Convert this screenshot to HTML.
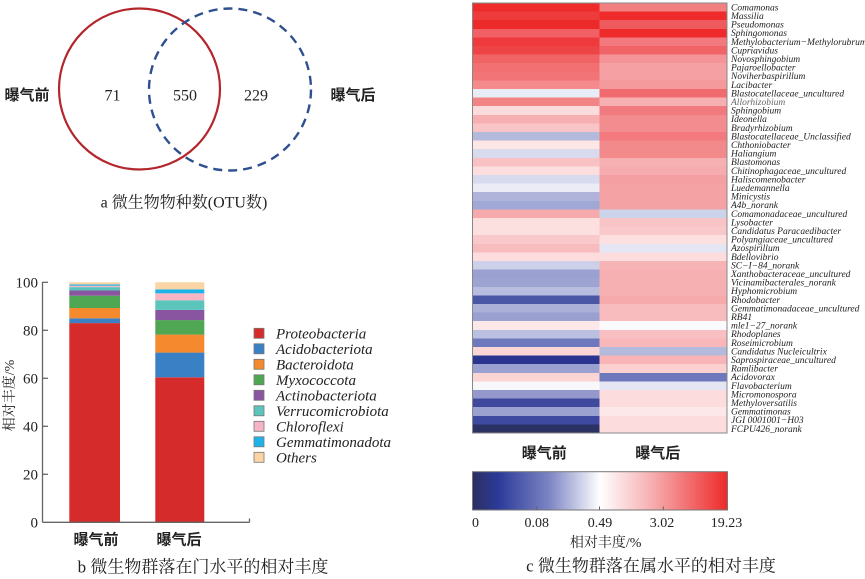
<!DOCTYPE html>
<html><head><meta charset="utf-8">
<style>
html,body{margin:0;padding:0;background:#fff;}
svg{display:block;}
.s{font-family:"Liberation Serif","Noto Serif CJK SC",serif;}
.cj{font-family:"Liberation Serif","Noto Serif CJK SC",serif;}
.hb{font-family:"Liberation Sans","Noto Sans CJK SC",sans-serif;font-weight:bold;}
.it{font-family:"Liberation Serif",serif;font-style:italic;}
</style></head>
<body>
<svg width="865" height="579" viewBox="0 0 865 579" xmlns="http://www.w3.org/2000/svg">
<defs>
<linearGradient id="cb" x1="0" x2="1" y1="0" y2="0">
<stop offset="0" stop-color="#2c2f60"/>
<stop offset="0.1" stop-color="#2b3a98"/>
<stop offset="0.3" stop-color="#7c84c4"/>
<stop offset="0.5" stop-color="#ffffff"/>
<stop offset="0.7" stop-color="#f6b0b2"/>
<stop offset="1" stop-color="#ee2a2a"/>
</linearGradient>
</defs>

<!-- ===== a: Venn ===== -->
<circle cx="139.5" cy="89" r="80.5" fill="none" stroke="#b3262b" stroke-width="2.2"/>
<circle cx="230" cy="89.5" r="81" fill="none" stroke="#2f5090" stroke-width="2.4" stroke-dasharray="9,6"/>
<text x="27" y="100" class="hb" font-size="15" text-anchor="middle" fill="#222">曝气前</text>
<text x="112.5" y="100.5" class="s" font-size="16" text-anchor="middle" fill="#222">71</text>
<text x="185" y="100.5" class="s" font-size="16" text-anchor="middle" fill="#222">550</text>
<text x="256" y="100.5" class="s" font-size="16" text-anchor="middle" fill="#222">229</text>
<text x="353" y="100" class="hb" font-size="15" text-anchor="middle" fill="#222">曝气后</text>
<text x="184" y="207.5" class="cj" font-size="16" text-anchor="middle" fill="#222">a 微生物物种数(OTU数)</text>

<!-- ===== b: stacked bars ===== -->
<g>
<!-- bar 1 -->
<rect x="69.3" y="323.1" width="50.7" height="199.2" fill="#d62b2b"/>
<rect x="69.3" y="318.3" width="50.7" height="4.8" fill="#3a80c4"/>
<rect x="69.3" y="308.0" width="50.7" height="10.3" fill="#f4892e"/>
<rect x="69.3" y="295.7" width="50.7" height="12.3" fill="#4fa653"/>
<rect x="69.3" y="290.5" width="50.7" height="5.2" fill="#8a55a0"/>
<rect x="69.3" y="287.1" width="50.7" height="3.4" fill="#5bc5bc"/>
<rect x="69.3" y="285.7" width="50.7" height="1.4" fill="#f6b4c4"/>
<rect x="69.3" y="284.5" width="50.7" height="1.2" fill="#1cb4e8"/>
<rect x="69.3" y="282.3" width="50.7" height="2.2" fill="#fad4a4"/>
<!-- bar 2 -->
<rect x="155.3" y="377.3" width="49" height="145" fill="#d62b2b"/>
<rect x="155.3" y="352.6" width="49" height="24.7" fill="#3a80c4"/>
<rect x="155.3" y="334.6" width="49" height="18" fill="#f4892e"/>
<rect x="155.3" y="320.1" width="49" height="14.5" fill="#4fa653"/>
<rect x="155.3" y="309.9" width="49" height="10.2" fill="#8a55a0"/>
<rect x="155.3" y="300.3" width="49" height="9.6" fill="#5bc5bc"/>
<rect x="155.3" y="293.3" width="49" height="7" fill="#f6b4c4"/>
<rect x="155.3" y="289.3" width="49" height="4" fill="#1cb4e8"/>
<rect x="155.3" y="282.3" width="49" height="7" fill="#fad4a4"/>
</g>
<g stroke="#666" stroke-width="1.3" fill="none">
<line x1="42.5" y1="282" x2="42.5" y2="522.3"/>
<line x1="42.5" y1="522.3" x2="249.5" y2="522.3"/>
<line x1="249.5" y1="522.3" x2="249.5" y2="518.5"/>
<line x1="42.5" y1="282.3" x2="48" y2="282.3"/>
<line x1="42.5" y1="330.3" x2="48" y2="330.3"/>
<line x1="42.5" y1="378.3" x2="48" y2="378.3"/>
<line x1="42.5" y1="426.3" x2="48" y2="426.3"/>
<line x1="42.5" y1="474.3" x2="48" y2="474.3"/>
</g>
<g class="s" font-size="15" text-anchor="end" fill="#222">
<text x="38" y="287.5">100</text>
<text x="38" y="335.5">80</text>
<text x="38" y="383.5">60</text>
<text x="38" y="431.5">40</text>
<text x="38" y="479.5">20</text>
<text x="38" y="527.5">0</text>
</g>
<text transform="translate(14,395.5) rotate(-90)" class="cj" font-size="14" text-anchor="middle" fill="#222">相对丰度/%</text>
<text x="96" y="544.5" class="hb" font-size="15" text-anchor="middle" fill="#222">曝气前</text>
<text x="179" y="544.5" class="hb" font-size="15" text-anchor="middle" fill="#222">曝气后</text>
<text x="203" y="572.5" class="cj" font-size="17" text-anchor="middle" fill="#222">b 微生物群落在门水平的相对丰度</text>

<!-- legend -->
<g stroke="#777" stroke-width="0.8">
<rect x="254" y="328.3" width="10" height="10" fill="#d62b2b"/>
<rect x="254" y="343.8" width="10" height="10" fill="#3a80c4"/>
<rect x="254" y="359.3" width="10" height="10" fill="#f4892e"/>
<rect x="254" y="374.8" width="10" height="10" fill="#4fa653"/>
<rect x="254" y="390.3" width="10" height="10" fill="#8a55a0"/>
<rect x="254" y="405.8" width="10" height="10" fill="#5bc5bc"/>
<rect x="254" y="421.3" width="10" height="10" fill="#f6b4c4"/>
<rect x="254" y="436.8" width="10" height="10" fill="#1cb4e8"/>
<rect x="254" y="452.3" width="10" height="10" fill="#fad4a4"/>
</g>
<g class="it" font-size="15" fill="#222">
<text x="276" y="338.5">Proteobacteria</text>
<text x="276" y="354">Acidobacteriota</text>
<text x="276" y="369.5">Bacteroidota</text>
<text x="276" y="385">Myxococcota</text>
<text x="276" y="400.5">Actinobacteriota</text>
<text x="276" y="416">Verrucomicrobiota</text>
<text x="276" y="431.5">Chloroflexi</text>
<text x="276" y="447">Gemmatimonadota</text>
<text x="276" y="462.5">Others</text>
</g>

<!-- ===== c: heatmap ===== -->
<g shape-rendering="crispEdges">
<rect x="472.5" y="3" width="127" height="8.7" fill="#ee2a2a"/><rect x="599.5" y="3" width="127.5" height="8.7" fill="#f28080"/>
<rect x="472.5" y="11.6" width="127" height="8.7" fill="#ee3c3c"/><rect x="599.5" y="11.6" width="127.5" height="8.7" fill="#ee2a2a"/>
<rect x="472.5" y="20.2" width="127" height="8.7" fill="#ec2a2a"/><rect x="599.5" y="20.2" width="127.5" height="8.7" fill="#ef5a5e"/>
<rect x="472.5" y="28.8" width="127" height="8.7" fill="#f06064"/><rect x="599.5" y="28.8" width="127.5" height="8.7" fill="#ee2a2a"/>
<rect x="472.5" y="37.4" width="127" height="8.7" fill="#ee3a3c"/><rect x="599.5" y="37.4" width="127.5" height="8.7" fill="#f27a7e"/>
<rect x="472.5" y="46" width="127" height="8.7" fill="#ee4446"/><rect x="599.5" y="46" width="127.5" height="8.7" fill="#f06468"/>
<rect x="472.5" y="54.6" width="127" height="8.7" fill="#f06466"/><rect x="599.5" y="54.6" width="127.5" height="8.7" fill="#f49498"/>
<rect x="472.5" y="63.2" width="127" height="8.7" fill="#f27072"/><rect x="599.5" y="63.2" width="127.5" height="8.7" fill="#f5a0a2"/>
<rect x="472.5" y="71.8" width="127" height="8.7" fill="#f27476"/><rect x="599.5" y="71.8" width="127.5" height="8.7" fill="#f5a0a2"/>
<rect x="472.5" y="80.4" width="127" height="8.7" fill="#f48a8c"/><rect x="599.5" y="80.4" width="127.5" height="8.7" fill="#f49a9c"/>
<rect x="472.5" y="89" width="127" height="8.7" fill="#e8ecf6"/><rect x="599.5" y="89" width="127.5" height="8.7" fill="#f06a6e"/>
<rect x="472.5" y="97.6" width="127" height="8.7" fill="#f28486"/><rect x="599.5" y="97.6" width="127.5" height="8.7" fill="#f7b0b2"/>
<rect x="472.5" y="106.2" width="127" height="8.7" fill="#fbdcdc"/><rect x="599.5" y="106.2" width="127.5" height="8.7" fill="#f07a7e"/>
<rect x="472.5" y="114.8" width="127" height="8.7" fill="#f7b0b2"/><rect x="599.5" y="114.8" width="127.5" height="8.7" fill="#f28c8e"/>
<rect x="472.5" y="123.4" width="127" height="8.7" fill="#f8c4c6"/><rect x="599.5" y="123.4" width="127.5" height="8.7" fill="#f28c8e"/>
<rect x="472.5" y="132" width="127" height="8.7" fill="#b4badc"/><rect x="599.5" y="132" width="127.5" height="8.7" fill="#f27a7e"/>
<rect x="472.5" y="140.6" width="127" height="8.7" fill="#fce6e6"/><rect x="599.5" y="140.6" width="127.5" height="8.7" fill="#f28a8c"/>
<rect x="472.5" y="149.2" width="127" height="8.7" fill="#d8dbee"/><rect x="599.5" y="149.2" width="127.5" height="8.7" fill="#f28a8c"/>
<rect x="472.5" y="157.8" width="127" height="8.7" fill="#f8c2c4"/><rect x="599.5" y="157.8" width="127.5" height="8.7" fill="#f7b0b2"/>
<rect x="472.5" y="166.4" width="127" height="8.7" fill="#fcdede"/><rect x="599.5" y="166.4" width="127.5" height="8.7" fill="#f6acae"/>
<rect x="472.5" y="175" width="127" height="8.7" fill="#d8daee"/><rect x="599.5" y="175" width="127.5" height="8.7" fill="#f4a0a2"/>
<rect x="472.5" y="183.6" width="127" height="8.7" fill="#ececf6"/><rect x="599.5" y="183.6" width="127.5" height="8.7" fill="#f4a2a4"/>
<rect x="472.5" y="192.2" width="127" height="8.7" fill="#b0b4da"/><rect x="599.5" y="192.2" width="127.5" height="8.7" fill="#f5a2a4"/>
<rect x="472.5" y="200.8" width="127" height="8.7" fill="#a0a8d6"/><rect x="599.5" y="200.8" width="127.5" height="8.7" fill="#f5a2a4"/>
<rect x="472.5" y="209.4" width="127" height="8.7" fill="#f6aaac"/><rect x="599.5" y="209.4" width="127.5" height="8.7" fill="#ccd4ec"/>
<rect x="472.5" y="218" width="127" height="8.7" fill="#fce0e0"/><rect x="599.5" y="218" width="127.5" height="8.7" fill="#f8c4c6"/>
<rect x="472.5" y="226.6" width="127" height="8.7" fill="#fce0e0"/><rect x="599.5" y="226.6" width="127.5" height="8.7" fill="#f8c8ca"/>
<rect x="472.5" y="235.2" width="127" height="8.7" fill="#f8c8ca"/><rect x="599.5" y="235.2" width="127.5" height="8.7" fill="#fce0e0"/>
<rect x="472.5" y="243.8" width="127" height="8.7" fill="#f8bcbe"/><rect x="599.5" y="243.8" width="127.5" height="8.7" fill="#e4e6f4"/>
<rect x="472.5" y="252.4" width="127" height="8.7" fill="#fcdcdc"/><rect x="599.5" y="252.4" width="127.5" height="8.7" fill="#fcdcdc"/>
<rect x="472.5" y="261" width="127" height="8.7" fill="#ccd0e8"/><rect x="599.5" y="261" width="127.5" height="8.7" fill="#f7b4b6"/>
<rect x="472.5" y="269.6" width="127" height="8.7" fill="#9aa0d0"/><rect x="599.5" y="269.6" width="127.5" height="8.7" fill="#f7b0b2"/>
<rect x="472.5" y="278.2" width="127" height="8.7" fill="#9ea4d2"/><rect x="599.5" y="278.2" width="127.5" height="8.7" fill="#f7b0b2"/>
<rect x="472.5" y="286.8" width="127" height="8.7" fill="#b8bcdf"/><rect x="599.5" y="286.8" width="127.5" height="8.7" fill="#f7b0b2"/>
<rect x="472.5" y="295.4" width="127" height="8.7" fill="#4a56a6"/><rect x="599.5" y="295.4" width="127.5" height="8.7" fill="#f7aaac"/>
<rect x="472.5" y="304" width="127" height="8.7" fill="#aab0d8"/><rect x="599.5" y="304" width="127.5" height="8.7" fill="#f8bcbe"/>
<rect x="472.5" y="312.6" width="127" height="8.7" fill="#9aa0d0"/><rect x="599.5" y="312.6" width="127.5" height="8.7" fill="#f8bcbe"/>
<rect x="472.5" y="321.2" width="127" height="8.7" fill="#fde8e8"/><rect x="599.5" y="321.2" width="127.5" height="8.7" fill="#fafafc"/>
<rect x="472.5" y="329.8" width="127" height="8.7" fill="#bcc0e0"/><rect x="599.5" y="329.8" width="127.5" height="8.7" fill="#f8c0c2"/>
<rect x="472.5" y="338.4" width="127" height="8.7" fill="#6e78bc"/><rect x="599.5" y="338.4" width="127.5" height="8.7" fill="#f8b8ba"/>
<rect x="472.5" y="347" width="127" height="8.7" fill="#fbd6d6"/><rect x="599.5" y="347" width="127.5" height="8.7" fill="#b4badc"/>
<rect x="472.5" y="355.6" width="127" height="8.7" fill="#2a3590"/><rect x="599.5" y="355.6" width="127.5" height="8.7" fill="#f8b4b6"/>
<rect x="472.5" y="364.2" width="127" height="8.7" fill="#9aa0d0"/><rect x="599.5" y="364.2" width="127.5" height="8.7" fill="#fad0d0"/>
<rect x="472.5" y="372.8" width="127" height="8.7" fill="#fbd4d4"/><rect x="599.5" y="372.8" width="127.5" height="8.7" fill="#6e78bc"/>
<rect x="472.5" y="381.4" width="127" height="8.7" fill="#f8f8fa"/><rect x="599.5" y="381.4" width="127.5" height="8.7" fill="#e4e6f4"/>
<rect x="472.5" y="390" width="127" height="8.7" fill="#9498cc"/><rect x="599.5" y="390" width="127.5" height="8.7" fill="#fcdcdc"/>
<rect x="472.5" y="398.6" width="127" height="8.7" fill="#3e489c"/><rect x="599.5" y="398.6" width="127.5" height="8.7" fill="#fcdcdc"/>
<rect x="472.5" y="407.2" width="127" height="8.7" fill="#9ca2d0"/><rect x="599.5" y="407.2" width="127.5" height="8.7" fill="#fce8e8"/>
<rect x="472.5" y="415.8" width="127" height="8.7" fill="#3e4aa0"/><rect x="599.5" y="415.8" width="127.5" height="8.7" fill="#fcdcdc"/>
<rect x="472.5" y="424.4" width="127" height="8.6" fill="#2b3163"/><rect x="599.5" y="424.4" width="127.5" height="8.6" fill="#fcdcdc"/>
</g>
<rect x="472.5" y="3" width="254.5" height="430" fill="none" stroke="#888" stroke-width="1"/>

<g class="it" font-size="9.5" fill="#222">
<text x="731" y="10.4">Comamonas</text>
<text x="731" y="19">Massilia</text>
<text x="731" y="27.6">Pseudomonas</text>
<text x="731" y="36.2">Sphingomonas</text>
<text x="731" y="44.8">Methylobacterium−Methylorubrum</text>
<text x="731" y="53.4">Cupriavidus</text>
<text x="731" y="62">Novosphingobium</text>
<text x="731" y="70.6">Pajaroellobacter</text>
<text x="731" y="79.2">Noviherbaspirillum</text>
<text x="731" y="87.8">Lacibacter</text>
<text x="731" y="96.4">Blastocatellaceae_uncultured</text>
<text x="731" y="105" fill="#666">Allorhizobium</text>
<text x="731" y="113.6">Sphingobium</text>
<text x="731" y="122.2">Ideonella</text>
<text x="731" y="130.8">Bradyrhizobium</text>
<text x="731" y="139.4">Blastocatellaceae_Unclassified</text>
<text x="731" y="148">Chthoniobacter</text>
<text x="731" y="156.6">Haliangium</text>
<text x="731" y="165.2">Blastomonas</text>
<text x="731" y="173.8">Chitinophagaceae_uncultured</text>
<text x="731" y="182.4">Haliscomenobacter</text>
<text x="731" y="191">Luedemannella</text>
<text x="731" y="199.6">Minicystis</text>
<text x="731" y="208.2">A4b_norank</text>
<text x="731" y="216.8">Comamonadaceae_uncultured</text>
<text x="731" y="225.4">Lysobacter</text>
<text x="731" y="234">Candidatus Paracaedibacter</text>
<text x="731" y="242.6">Polyangiaceae_uncultured</text>
<text x="731" y="251.2">Azospirillum</text>
<text x="731" y="259.8">Bdellovibrio</text>
<text x="731" y="268.4">SC−I−84_norank</text>
<text x="731" y="277">Xanthobacteraceae_uncultured</text>
<text x="731" y="285.6">Vicinamibacterales_norank</text>
<text x="731" y="294.2">Hyphomicrobium</text>
<text x="731" y="302.8">Rhodobacter</text>
<text x="731" y="311.4">Gemmatimonadaceae_uncultured</text>
<text x="731" y="320">RB41</text>
<text x="731" y="328.6">mle1−27_norank</text>
<text x="731" y="337.2">Rhodoplanes</text>
<text x="731" y="345.8">Roseimicrobium</text>
<text x="731" y="354.4">Candidatus Nucleicultrix</text>
<text x="731" y="363">Saprospiraceae_uncultured</text>
<text x="731" y="371.6">Ramlibacter</text>
<text x="731" y="380.2">Acidovorax</text>
<text x="731" y="388.8">Flavobacterium</text>
<text x="731" y="397.4">Micromonospora</text>
<text x="731" y="406">Methyloversatilis</text>
<text x="731" y="414.6">Gemmatimonas</text>
<text x="731" y="423.2">JGI 0001001−H03</text>
<text x="731" y="431.8">FCPU426_norank</text>
</g>

<text x="544.3" y="458" class="hb" font-size="15" text-anchor="middle" fill="#222">曝气前</text>
<text x="657.7" y="458" class="hb" font-size="15" text-anchor="middle" fill="#222">曝气后</text>

<!-- colour bar -->
<rect x="472.5" y="471.7" width="255" height="38.3" fill="url(#cb)" stroke="#777" stroke-width="1"/>
<g stroke="#666" stroke-width="1">
<line x1="536.7" y1="510" x2="536.7" y2="506.5"/>
<line x1="599.5" y1="510" x2="599.5" y2="506.5"/>
<line x1="663.3" y1="510" x2="663.3" y2="506.5"/>
</g>
<g class="s" font-size="14" text-anchor="middle" fill="#222">
<text x="475.5" y="527">0</text>
<text x="536.7" y="527">0.08</text>
<text x="600" y="527">0.49</text>
<text x="662" y="527">3.02</text>
<text x="726.5" y="527">19.23</text>
</g>
<text x="605.7" y="547" class="cj" font-size="14" text-anchor="middle" fill="#222">相对丰度/%</text>
<text x="651" y="571.5" class="cj" font-size="17" text-anchor="middle" fill="#222">c 微生物群落在属水平的相对丰度</text>
</svg>
</body></html>
